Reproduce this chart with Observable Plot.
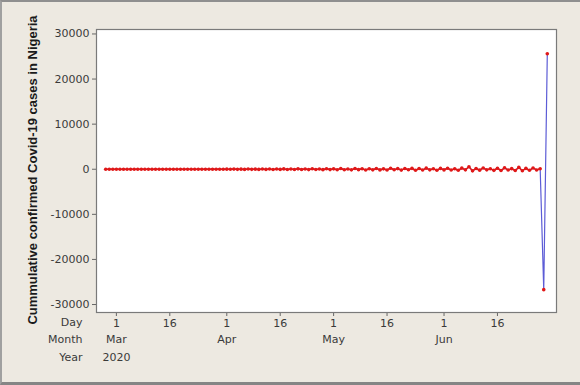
<!DOCTYPE html>
<html>
<head>
<meta charset="utf-8">
<script src="https://cdn.jsdelivr.net/npm/d3@7"></script>
<script src="https://cdn.jsdelivr.net/npm/@observablehq/plot@0.6"></script>
<style>
  html, body { margin: 0; padding: 0; background: #ede9e1; }
  #wrap { position: relative; width: 580px; height: 385px; overflow: hidden; background: #ede9e1; }
  #wrap svg { position: absolute; left: 0; top: 0; }
  #border { position: absolute; left: 0; top: 0; width: 580px; height: 385px; box-sizing: border-box;
            border-top: 2px solid #8f8f8f; border-left: 2px solid #a0a0a0; border-bottom: 3px solid #858585;
            pointer-events: none; }
</style>
</head>
<body>
<div id="wrap"><div id="border"></div></div>
<script>
// First observation date (Feb 27, 2020); one value per day through Jun 30, 2020
const startDate = "2020-02-27";
const values = [
  0, 0, 0,
  // March
  0, 0, 0, 0, 0, 0, 0, 0, 0, 1, -1, 0, 1, 0, -1, 0, 0, 1, 2, -3, 5, -2, 3, -2, 6, -4, 9, -3, 5, 12, -10,
  // April
  20, -15, 30, -25, 18, -30, 45, -20, 25, -40, 55, -30, 60, -70, 50, -35, 80, -60, 40, -55, 90, -70, 65, -85, 110, -60, 40, -95, 120, -80,
  // May
  90, -120, 150, -100, 60, -140, 170, -90, 120, -160, 100, -130, 180, -150, 90, -170, 210, -110, 140, -190, 160, -120, 200, -230, 150, -180, 240, -140, 110, -210, 190,
  // June 1-28
  -150, 210, -180, 120, -220, 250, -130, 560, -360, 160, -200, 280, -140, 110, -250, 220, -290, 320, -180, 130, -270, 420, -320, 200, -240, 280, -160, 100,
  // June 29-30
  -26700, 25600
];
const yTicks = [-30000, -20000, -10000, 0, 10000, 20000, 30000];
const dayTicks = ["2020-03-01", "2020-03-16", "2020-04-01", "2020-04-16", "2020-05-01", "2020-05-16", "2020-06-01", "2020-06-16"];
const monthTicks = ["2020-03-01", "2020-04-01", "2020-05-01", "2020-06-01"];
const monthLabels = ["Mar", "Apr", "May", "Jun"];
const yearTicks = ["2020-03-01"];
const yearLabels = ["2020"];
const rowLabels = ["Day", "Month", "Year"];
const yTitle = "Cummulative confirmed Covid-19 cases in Nigeria";

const start = new Date(startDate + "T00:00:00Z");
const data = values.map((v, i) => ({ date: new Date(start.getTime() + i * 864e5), value: v }));
const toDate = s => new Date(s + "T00:00:00Z");

const rowDy = [13, 30, 48];
const chart = Plot.plot({
  width: 580,
  height: 385,
  marginLeft: 96,
  marginTop: 29,
  marginRight: 24,
  marginBottom: 73,
  style: { background: "transparent", fontFamily: "DejaVu Sans, sans-serif", fontSize: "11px", color: "#3a3a3a" },
  x: { type: "utc", domain: [new Date(Date.UTC(2020, 1, 24, 10)), new Date(Date.UTC(2020, 6, 2, 14))] },
  y: { domain: [-31770, 30990] },
  marks: [
    Plot.frame({ fill: "white", stroke: null }),
    Plot.axisY({ ticks: yTicks, tickFormat: d => String(d), tickSize: 4, tickPadding: 3, label: null, stroke: "#666" }),
    Plot.axisX({ ticks: dayTicks.map(toDate), tickFormat: d => String(d.getUTCDate()), tickSize: 4, tickPadding: 3, label: null, stroke: "#666" }),
    Plot.text(monthTicks.map(toDate), { x: d => d, text: (d, i) => monthLabels[i], frameAnchor: "bottom", dy: 30, fill: "#3a3a3a" }),
    Plot.text(yearTicks.map(toDate), { x: d => d, text: (d, i) => yearLabels[i], frameAnchor: "bottom", dy: 48, fill: "#3a3a3a" }),
    ...rowLabels.map((t, i) => Plot.text([t], { text: d => d, frameAnchor: "bottom-left", dx: -14, dy: rowDy[i], textAnchor: "end", fill: "#3a3a3a" })),
    Plot.text([yTitle], { text: d => d, frameAnchor: "left", dx: -64, dy: -1, rotate: -90, textAnchor: "middle", fontWeight: "bold", fontSize: 13, fill: "#1a1a1a", fontFamily: "Liberation Sans, Arial, sans-serif" }),
    Plot.line(data, { x: "date", y: "value", stroke: "#5c5cd6", strokeWidth: 1.2 }),
    Plot.line(data.slice(0, values.length - 2), { x: "date", y: "value", stroke: "#e01818", strokeWidth: 1.5 }),
    Plot.dot(data, { x: "date", y: "value", r: 1.8, fill: "#e01818", stroke: null }),
    Plot.frame({ stroke: "#7a7a7a", strokeWidth: 1.2 })
  ]
});
document.getElementById("wrap").insertBefore(chart, document.getElementById("border"));
</script>
</body>
</html>
